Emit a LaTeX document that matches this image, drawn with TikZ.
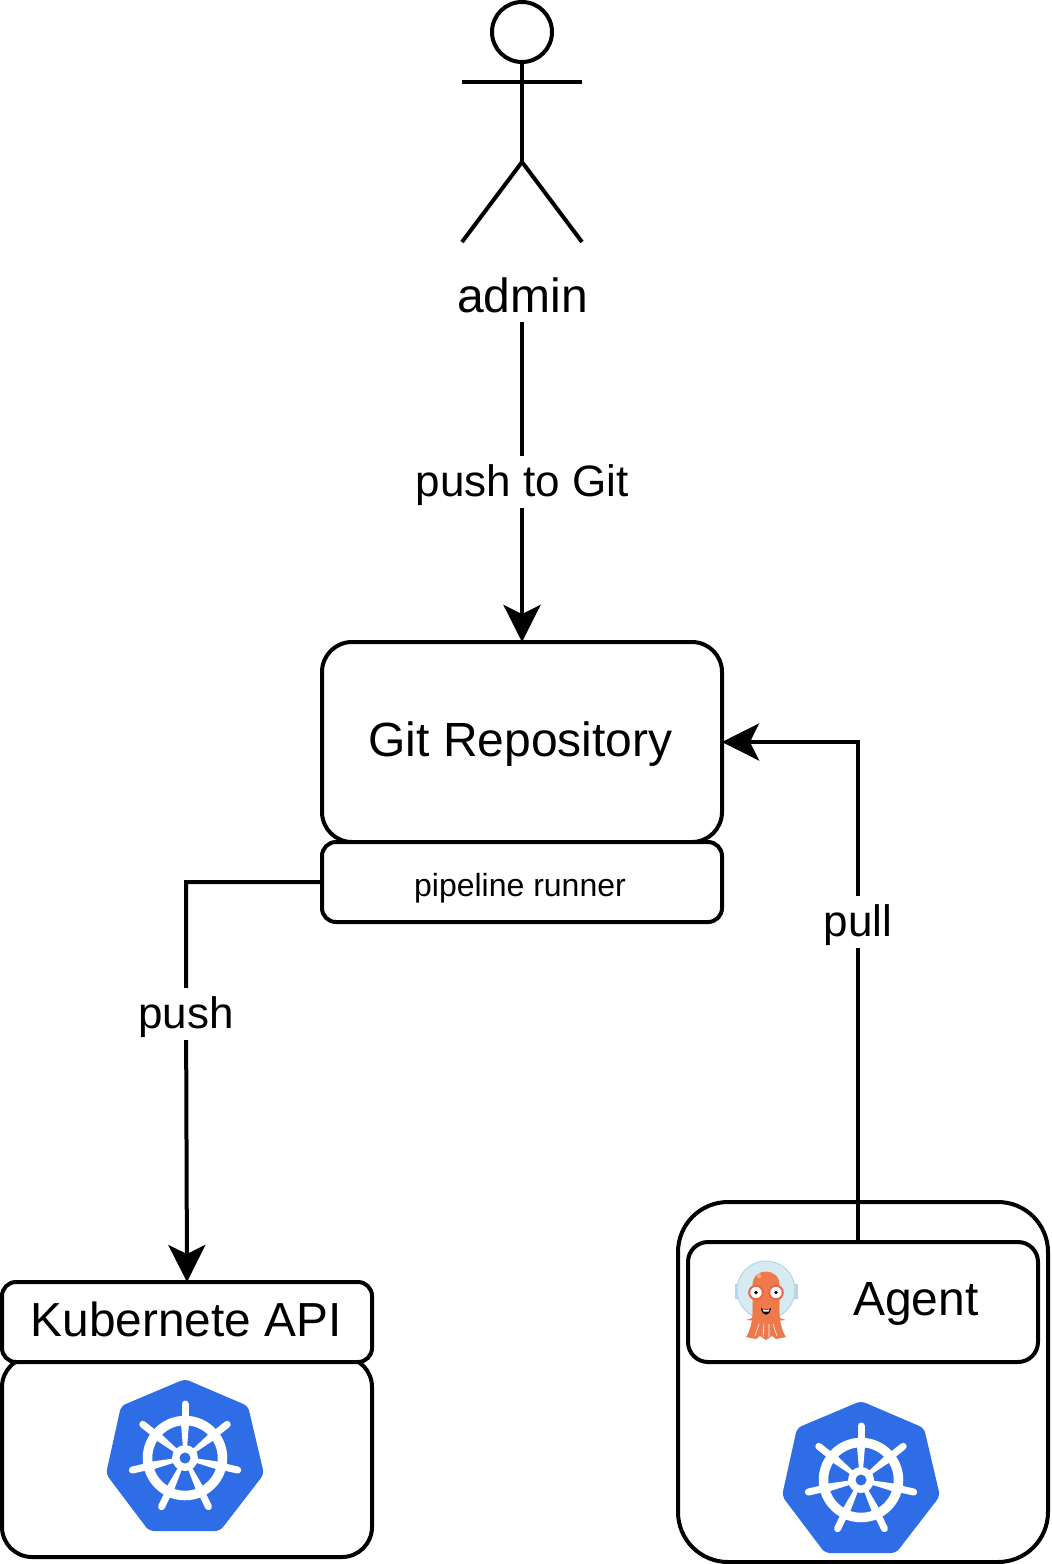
\documentclass[tikz,border=0pt]{standalone}
\usepackage{fontspec}
\setmainfont{Liberation Sans}
\usetikzlibrary{arrows.meta,calc}
\definecolor{kblue}{HTML}{2F6DE6}
\definecolor{argoorange}{HTML}{EE7A4C}
\definecolor{argored}{HTML}{E9654B}
\definecolor{argohelmet}{HTML}{D6EAF2}
\definecolor{argorim}{HTML}{B8D3EE}
\newcommand{\lowered}[1]{\raisebox{-14.5pt}[0pt][0pt]{#1}}
\tikzset{
  x=1pt,y=-1pt,
  conn/.style={line width=4pt,draw=black,shorten >=-2pt,-{Stealth[length=37pt,width=37pt,inset=9pt]}},
  plain/.style={line width=4pt,draw=black},
  boxshape/.style={line width=4pt,draw=black,fill=white,inner sep=0pt,align=center},
  txt/.style={inner sep=0pt,fill=none,align=center},
  big/.style={font=\fontsize{48}{54}\selectfont},
  mid/.style={font=\fontsize{44}{50}\selectfont},
  small/.style={font=\fontsize{32}{38}\selectfont},
  edgelabel/.style={fill=white,inner xsep=3pt,inner ysep=0pt,minimum height=52pt,mid},
  kube/.pic={
    \fill[kblue,rounded corners=5pt] (0,-79) -- (63,-52) -- (79,16) -- (35,73) -- (-36,73) -- (-79,16) -- (-64,-52) -- cycle;
    \draw[white,line width=9.5pt] (0,0) circle (37.5);
    \fill[white] (0,0) circle (13);
    \fill[kblue] (0,0) circle (5.5);
    \foreach \a in {0,51.43,102.86,154.29,205.71,257.14,308.57}{
      \begin{scope}[rotate=\a]
        \fill[white] (-2,-10) -- (2,-10) -- (4.5,-40) -- (-4.5,-40) -- cycle;
        \draw[white,line width=7pt,line cap=round] (0,-38) -- (0,-54);
      \end{scope}
    }
  },
  argo/.pic={
    \fill[argorim] (-31.5,-6) rectangle (-28,9);
    \fill[argorim] (28,-6) rectangle (31.5,9);
    \fill[argohelmet,draw=argorim,line width=1pt] (0,0) circle (29);
    \fill[argoorange] (-13,12) .. controls (-13,28) and (-15,40) .. (-20,47)
       -- (-10,49) -- (-6,46) -- (0,50) -- (6,46) -- (10,49) -- (20,47)
       .. controls (15,40) and (13,28) .. (13,12) -- cycle;
    \fill[argoorange] (-20,30) -- (-8,26) -- (-8,31) -- cycle;
    \fill[argoorange] (20,30) -- (8,26) -- (8,31) -- cycle;
    \draw[white,line width=.6pt] (-7,34) -- (-11,46) (-2,34) -- (-3,47) (3,34) -- (3,47) (7,34) -- (11,46);
    \fill[argoorange] (-13.5,14) -- (-13.5,-5) .. controls (-13.5,-23) and (13.5,-23) .. (13.5,-5) -- (13.5,14) -- (13,32) -- (-13,32) -- cycle;
    \fill[white,opacity=.35] (-7,-14) circle (2.2);
    \foreach \s in {-1,1}{
      \fill[white,draw=argored,line width=2pt] (\s*10,2.5) circle (6.8);
      \fill[black] (\s*10,2.5) circle (1.9);
    }
    \fill[black] (-5,18) .. controls (-3,20) and (3,20) .. (5,18) .. controls (4,27) and (-4,27) .. (-5,18) -- cycle;
    \fill[white] (-3.5,19.3) .. controls (-1,20.2) and (1,20.2) .. (3.5,19.3) -- (2.5,21.5) -- (-2.5,21.5) -- cycle;
  }
}
\begin{document}
\begin{tikzpicture}
\useasboundingbox (0,0) rectangle (1052,1564);
% actor
\coordinate (hip) at (522,162);
\coordinate (armL) at (462,82);
\coordinate (armR) at (582,82);
\coordinate (legL) at (462,242);
\coordinate (legR) at (582,242);
\node[plain,circle,minimum size=60pt,inner sep=0pt] (head) at (522,32) {};
\draw[plain] (head.south) -- (hip);
\draw[plain] (armL) -- (armR);
\draw[plain] (legL) -- (hip) -- (legR);
\node[txt,big,minimum height=52pt] (admin) at (522.5,295) {admin};
\coordinate (adminfoot) at (522,322);

% boxes
\node[boxshape,rounded corners=30pt,minimum width=400pt,minimum height=200pt] (git) at (522,742) {};
\node[txt,big] (gitlabel) at (520.5,744) {Git Repository};
\node[boxshape,rounded corners=14pt,minimum width=400pt,minimum height=80pt] (runner) at (522,882) {};
\node[txt,small] (runnerlabel) at (520,888) {pipeline runner};

\node[boxshape,rounded corners=30pt,minimum width=370pt,minimum height=200pt] (kcluster) at (187,1457) {};
\node[boxshape,rounded corners=14pt,minimum width=370pt,minimum height=80pt] (kapi) at (187,1322) {};
\node[txt,font=\fontsize{47.8}{54}\selectfont] (kapilabel) at (186,1319) {Kubernete API};
\pic at (185,1458) {kube};

\node[boxshape,rounded corners=50pt,minimum width=370pt,minimum height=360pt] (outer) at (863,1382) {};
\node[boxshape,rounded corners=20pt,minimum width=350pt,minimum height=120pt] (agent) at (863,1302) {};
\node[txt,big] (agentlabel) at (916,1304) {Agent};
\pic at (766,1290) {argo};
\pic at (861,1480) {kube};

% connectors
\coordinate (pullstart) at (858,1242);
\coordinate (pullcorner) at (858,742);
\coordinate (pushcorner) at (186,882);
\coordinate (pushend) at (186,1000);
\draw[conn] (adminfoot) -- (git.north);
\node[edgelabel] (pushgit) at (522,482) {\lowered{push to Git}};
\draw[conn] (runner.west) -- (pushcorner) -- (pushend) -- (kapi.north);
\node[edgelabel] (pushlabel) at (186,1014) {\lowered{push}};
\draw[conn] (pullstart) -- (pullcorner) -- (git.east);
\node[edgelabel] (pulllabel) at (858,922) {\lowered{pull}};
\end{tikzpicture}
\end{document}
